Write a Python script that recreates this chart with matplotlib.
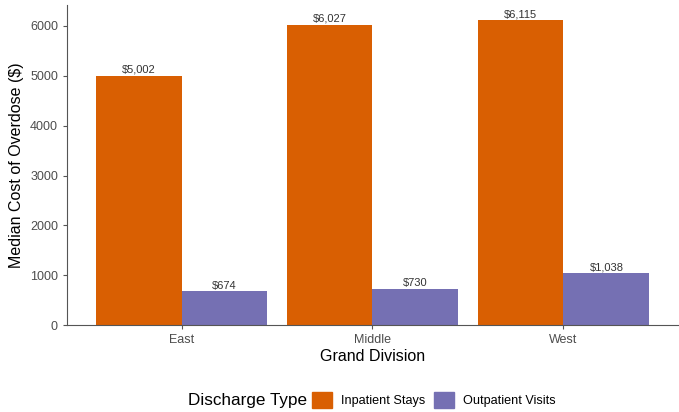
import numpy as np
import matplotlib.pyplot as plt
from matplotlib.patches import Patch

plt.rcParams["font.family"] = ["Liberation Sans", "DejaVu Sans"]

divisions = ["East", "Middle", "West"]
inpatient = [5002, 6027, 6115]
outpatient = [674, 730, 1038]
orange = "#D95F02"
purple = "#7570B3"

fig = plt.figure(figsize=(6.79, 4.12), dpi=100)
ax = fig.add_axes([0.0987, 0.211, 0.8998, 0.777])

x = np.arange(1, len(divisions) + 1)
w = 0.45
ax.bar(x - w / 2, inpatient, width=w, color=orange)
ax.bar(x + w / 2, outpatient, width=w, color=purple)

for xi, v in zip(x - w / 2, inpatient):
    ax.text(xi, v + 15, f"${v:,}", ha="center", va="bottom", fontsize=8, color="#333333")
for xi, v in zip(x + w / 2, outpatient):
    ax.text(xi, v + 15, f"${v:,}", ha="center", va="bottom", fontsize=8, color="#333333")

ax.set_xlim(0.4, 3.6)
ax.set_ylim(0, 6421)
ax.set_xticks(x)
ax.set_xticklabels(divisions)
ax.set_yticks(range(0, 7000, 1000))
ax.tick_params(colors="#4d4d4d", labelsize=9, length=3, color="#555555")
for s in ["top", "right"]:
    ax.spines[s].set_visible(False)
for s in ["left", "bottom"]:
    ax.spines[s].set_color("#555555")
    ax.spines[s].set_linewidth(0.8)

ax.set_xlabel("Grand Division", fontsize=11.5, labelpad=2)
ax.set_ylabel("Median Cost of Overdose ($)", fontsize=11.5, labelpad=4)

# legend at the bottom: title on the left, keys in a row
fig.text(188 / 679, 1 - 400 / 412, "Discharge Type", fontsize=12.3, ha="left", va="center")
handles = [Patch(color=orange, label="Inpatient Stays"),
           Patch(color=purple, label="Outpatient Visits")]
fig.legend(handles=handles, loc="center left", bbox_to_anchor=(312 / 679, 1 - 400 / 412),
           ncol=2, frameon=False, fontsize=9.1, handlelength=1.6, handleheight=1.6,
           columnspacing=0.7, handletextpad=0.7, borderpad=0, borderaxespad=0)

fig.savefig("out.png", dpi=100)
